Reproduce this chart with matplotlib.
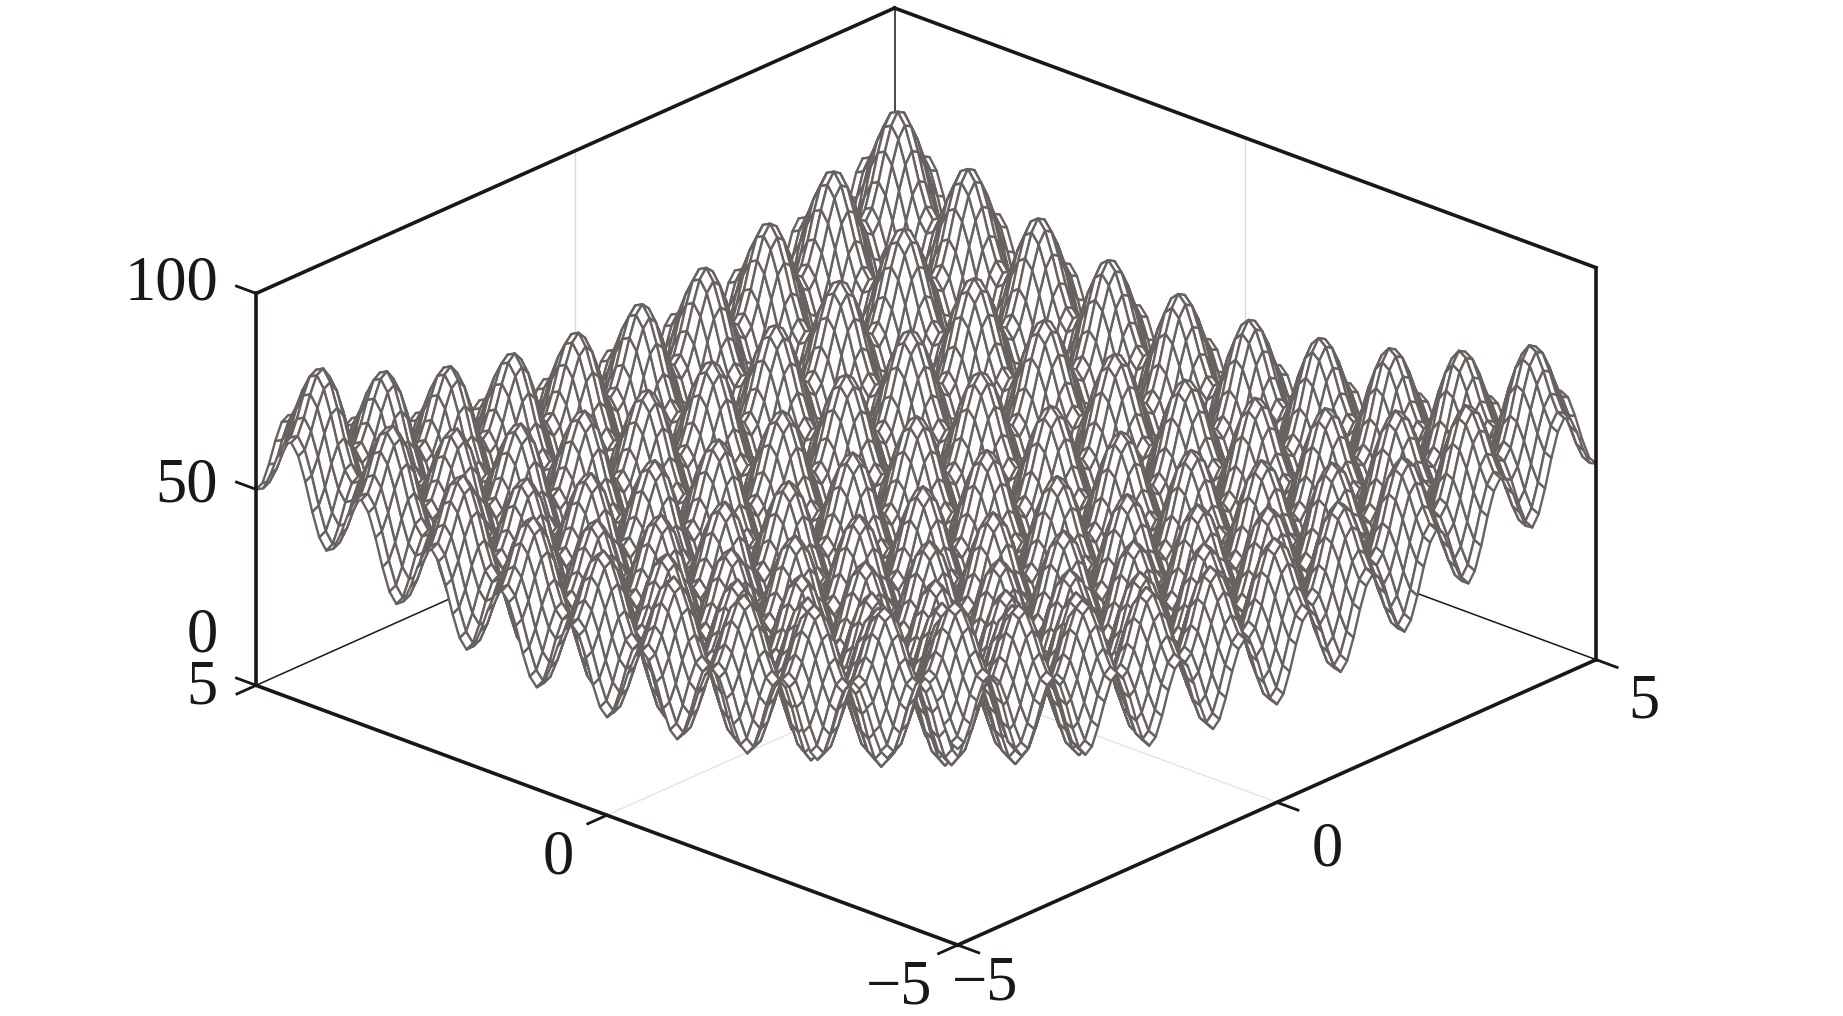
import numpy as np
import matplotlib
matplotlib.use("Agg")
import matplotlib.pyplot as plt
from mpl_toolkits.mplot3d import proj3d

# height of one half section through the surface, x = 0.0, 0.1 ... 5.0
half_section = [0.00, 1.92, 6.95, 13.18, 18.25, 20.25, 18.45, 13.58, 7.55, 2.72,
                1.00, 3.12, 8.35, 14.78, 20.05, 22.25, 20.65, 15.98, 10.15, 5.52,
                4.00, 6.32, 11.75, 18.38, 23.85, 26.25, 24.85, 20.38, 14.75, 10.32,
                9.00, 11.52, 17.15, 23.98, 29.65, 32.25, 31.05, 26.78, 21.35, 17.12,
                16.00, 18.72, 24.55, 31.58, 37.45, 40.25, 39.25, 35.18, 29.95, 25.92,
                25.00]
xy_ticks = [-5, 0, 5]
z_ticks = [0, 50, 100]

# tick labels, centre of each one in reference pixels
z_labels = [("100", 218, 285), ("50", 218, 486), ("0", 218, 636), ("5", 218, 688)]
edge_labels = [("0", 558, 859), ("0", 1327, 850), ("5", 1644, 702),
               ("\u22125", 899, 988), ("\u22125", 985, 985)]

W, H = 1843, 1016
plt.rcParams['font.family'] = ['Liberation Serif', 'DejaVu Serif']
INK = '#1a1715'

# the surface is the sum of the section along both axes
section = np.array(half_section[:0:-1] + half_section)
grid = np.arange(len(section)) / 10 - 5
X, Y = np.meshgrid(grid, grid)
Z = section[:, None] + section[None, :]

fig = plt.figure(figsize=(W / 100, H / 100), dpi=100)
ax = fig.add_axes([0.1, 0.0, 0.8, 1.0], projection='3d', proj_type='ortho',
                  computed_zorder=False)
ax.view_init(elev=24, azim=-137.7)
ax.set_box_aspect((807, 807, 365))
ax.set_xlim(-5, 5)
ax.set_ylim(-5, 5)
ax.set_zlim(0, 100)
ax.set_axis_off()
ax.patch.set_alpha(0)


def line(p, q, lw, color=INK, zorder=1):
    ax.plot([p[0], q[0]], [p[1], q[1]], [p[2], q[2]], color=color, lw=lw,
            zorder=zorder, solid_capstyle='projecting', clip_on=False)


# faint grid on the back walls and the floor
line((0, 5, 0), (0, 5, 100), 1.0, '#dcdad9')
line((5, 0, 0), (5, 0, 100), 1.0, '#dcdad9')
line((0, -5, 0), (0, 5, 0), 1.0, '#e6e4e3')
line((-5, 0, 0), (5, 0, 0), 1.0, '#e6e4e3')

# thin back edges, the surface hides most of them
line((5, 5, 0), (5, 5, 100), 1.1)
line((-5, 5, 0), (5, 5, 0), 1.1)
line((5, -5, 0), (5, 5, 0), 1.1)

ax.plot_surface(X, Y, Z, rstride=1, cstride=1, color='white', edgecolor='#67615f',
                linewidth=1.7, shade=False, zorder=2, clip_on=False)

# heavy box
heavy = 2.6
line((-5, 5, 100), (5, 5, 100), heavy, zorder=3)
line((5, -5, 100), (5, 5, 100), heavy, zorder=3)
line((-5, 5, 0), (-5, 5, 100), heavy, zorder=3)
line((5, -5, 0), (5, -5, 100), heavy, zorder=3)
line((-5, 5, 0), (-5, -5, 0), heavy, zorder=3)
line((5, -5, 0), (-5, -5, 0), heavy, zorder=3)

# ticks stick out of the box along the other horizontal axis
for t in xy_ticks:
    line((-5, t, 0), (-5.3, t, 0), 2.0, zorder=3)
    line((t, -5, 0), (t, -5.3, 0), 2.0, zorder=3)
for t in z_ticks:
    line((-5, 5, t), (-5, 5.28, t), 2.0, zorder=3)


def corner_px(x, y, z):
    xs, ys, _ = proj3d.proj_transform(x, y, z, ax.get_proj())
    return ax.transData.transform((xs, ys))


# fit the box on the corners
target_l = np.array([256, H - 682])
target_r = np.array([1596, H - 664])
target_f = np.array([958, H - 944])
for _ in range(4):
    fig.canvas.draw()
    pos = ax.get_position()
    l = corner_px(-5, 5, 0)
    r = corner_px(5, -5, 0)
    f = corner_px(-5, -5, 0)
    s = (target_r[0] - target_l[0]) / (r[0] - l[0])
    now = (l + r + f) / 3
    want = (target_l + target_r + target_f) / 3
    cx = pos.x0 + pos.width / 2
    cy = pos.y0 + pos.height / 2
    new_cx = want[0] / W + (cx - now[0] / W) * s
    new_cy = want[1] / H + (cy - now[1] / H) * s
    w, h = pos.width * s, pos.height * s
    ax.set_position([new_cx - w / 2, new_cy - h / 2, w, h])

for text, px, py in z_labels:
    fig.text(px / W, 1 - py / H, text, ha='right', va='center', fontsize=45, color=INK)
for text, px, py in edge_labels:
    fig.text(px / W, 1 - py / H, text, ha='center', va='center', fontsize=45, color=INK)

fig.savefig('out.png', dpi=100, facecolor='white')
